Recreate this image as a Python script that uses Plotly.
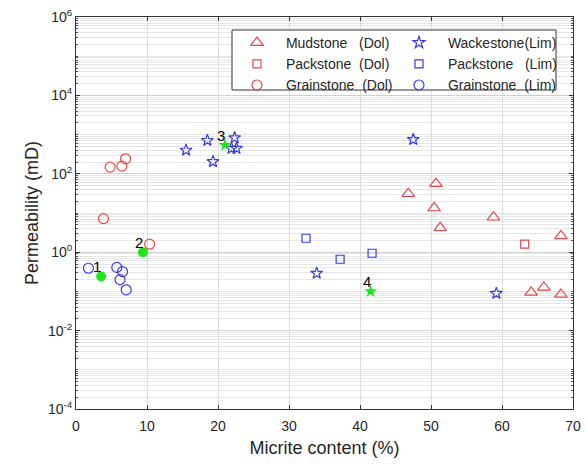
import plotly.graph_objects as go
import numpy as np

# Data
mud_dol_x = [46.8, 50.7, 50.45, 51.3, 58.8, 68.3, 64.1, 65.9, 68.3]
mud_dol_y = [31, 56, 13.4, 4.2, 7.8, 2.6, 0.094, 0.126, 0.084]
pack_dol_x = [63.2]
pack_dol_y = [1.6]
grain_dol_x = [4.8, 6.46, 6.98, 3.87, 10.37]
grain_dol_y = [148, 157, 241, 7.2, 1.6]
wack_lim_x = [15.5, 18.5, 19.3, 22.35, 21.9, 22.6, 47.5, 59.2, 33.9]
wack_lim_y = [400, 710, 204, 830, 445, 445, 750, 0.089, 0.29]
pack_lim_x = [32.4, 37.2, 41.7]
pack_lim_y = [2.27, 0.66, 0.94]
grain_lim_x = [1.75, 5.75, 6.55, 6.2, 7.07]
grain_lim_y = [0.39, 0.41, 0.32, 0.2, 0.11]
green_circ_x = [3.54, 9.43]
green_circ_y = [0.24, 1.0]
green_circ_lbl = ["1", "2"]
green_star_x = [21.0, 41.5]
green_star_y = [537, 0.1]
green_star_lbl = ["3", "4"]

RED = "#e8474a"
BLUE = "#3a3ae6"
GREEN = "#1ee61e"
NB = "\u00a0"

fig = go.Figure()

def add(x, y, sym, col, name, size, leg):
    fig.add_trace(go.Scatter(x=x, y=y, mode="markers", name=NB + name, legend=leg,
                             marker=dict(symbol=sym, size=size, color=col,
                                         line=dict(color=col, width=1.2))))

add(mud_dol_x, mud_dol_y, "triangle-up-open", RED, "Mudstone" + NB*3 + "(Dol)", 11, "legend")
add(pack_dol_x, pack_dol_y, "square-open", RED, "Packstone" + NB*2 + "(Dol)", 8, "legend")
add(grain_dol_x, grain_dol_y, "circle-open", RED, "Grainstone" + NB*2 + "(Dol)", 10, "legend")
add(wack_lim_x, wack_lim_y, "star-open", BLUE, "Wackestone(Lim)", 9, "legend2")
add(pack_lim_x, pack_lim_y, "square-open", BLUE, "Packstone" + NB*3 + "(Lim)", 8, "legend2")
add(grain_lim_x, grain_lim_y, "circle-open", BLUE, "Grainstone" + NB*2 + "(Lim)", 10, "legend2")

fig.add_trace(go.Scatter(x=green_circ_x, y=green_circ_y, mode="markers",
                         marker=dict(symbol="circle", size=10, color=GREEN),
                         showlegend=False))
fig.add_trace(go.Scatter(x=green_star_x, y=green_star_y, mode="markers",
                         marker=dict(symbol="star", size=10, color=GREEN),
                         showlegend=False))

for xs, ys, ls in ((green_circ_x, green_circ_y, green_circ_lbl),
                   (green_star_x, green_star_y, green_star_lbl)):
    for xv, yv, lv in zip(xs, ys, ls):
        fig.add_annotation(x=xv, y=np.log10(yv), text=lv, showarrow=False,
                           xshift=-4, yshift=10, font=dict(size=15, color="black"))

major = [10.0**k for k in range(-4, 7, 2)]
major_txt = ["10<sup>%d</sup>" % k for k in range(-4, 7, 2)]
minor_vals = []
for k in range(-4, 6):
    for m in range(1, 10):
        minor_vals.append(m * 10.0**k)

PW, PH, L, B = 497.0, 392.0, 76.0, 409.0
def px(x):
    return (x - L) / PW
def py(y):
    return (B - y) / PH

leg_common = dict(yanchor="top", xanchor="left", bgcolor="rgba(0,0,0,0)",
                  borderwidth=0, font=dict(size=14, color="#262626"),
                  itemwidth=40, tracegroupgap=0)

fig.add_shape(type="rect", xref="paper", yref="paper",
              x0=px(232), x1=px(556), y0=py(90), y1=py(30),
              fillcolor="white", line=dict(color="#333", width=1), layer="above")

fig.update_layout(
    width=587, height=464,
    margin=dict(l=76, r=14, t=17, b=55, autoexpand=False),
    paper_bgcolor="white", plot_bgcolor="white",
    font=dict(family="Arial, Liberation Sans, sans-serif", color="#262626"),
    legend=dict(x=px(232), y=py(27), **leg_common),
    legend2=dict(x=px(394), y=py(27), **leg_common),
    xaxis=dict(range=[0, 70], dtick=10, showgrid=True, gridcolor="#dcdcdc",
               showline=True, linecolor="#333", mirror="ticks", ticks="inside",
               ticklen=4, tickcolor="#333", zeroline=False,
               tickfont=dict(size=14), ticklabelstandoff=4,
               title=dict(text="Micrite content (%)", font=dict(size=18), standoff=8)),
    yaxis=dict(type="log", range=[-4, 6], tickvals=major, ticktext=major_txt,
               showgrid=True, gridcolor="#d0d0d0",
               showline=True, linecolor="#333", mirror="ticks", ticks="inside",
               ticklen=4, tickcolor="#333", zeroline=False,
               tickfont=dict(size=14),
               minor=dict(tickvals=minor_vals, showgrid=True, gridcolor="#e6e6e6",
                          ticks="inside", ticklen=2, tickcolor="#555"),
               title=dict(text="Permeability (mD)", font=dict(size=18), standoff=4)),
)

fig.write_html("out.html")
